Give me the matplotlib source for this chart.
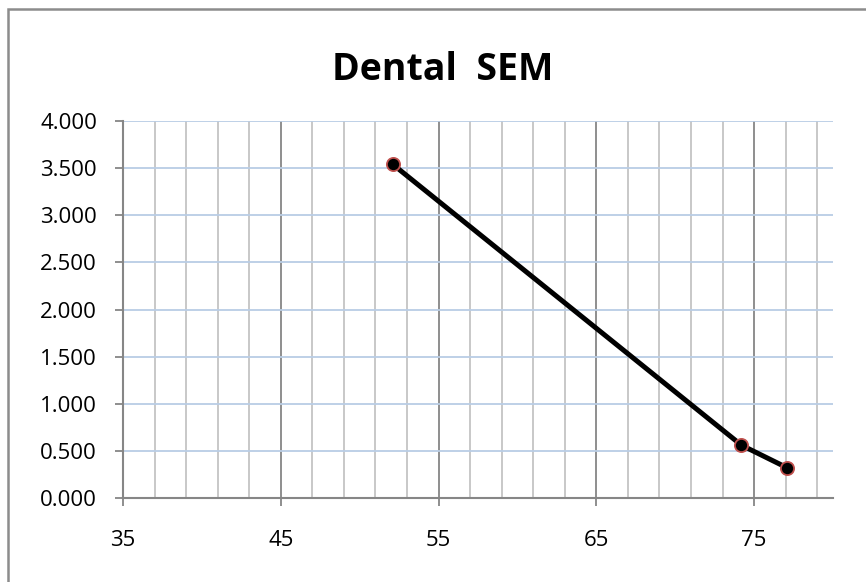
import matplotlib.pyplot as plt
from matplotlib.patches import Rectangle
from matplotlib.ticker import FixedLocator, MultipleLocator, FormatStrFormatter

# SEM values for the dental series
x_vals = [52.1, 74.2, 77.1]
sem_vals = [3.54, 0.56, 0.32]
x_major = [35, 45, 55, 65, 75]
x_minor = list(range(37, 80, 2))
title = 'Dental  SEM'

W, H, DPI = 866, 582, 100
fig = plt.figure(figsize=(W / DPI, H / DPI), dpi=DPI)
plt.rcParams['font.family'] = ['Open Sans', 'DejaVu Sans']

# chart frame (only top/left edges visible)
fig.patches.append(Rectangle((8 / W, -0.1), 1.2, 1 - 8 / H + 0.1 - 0.002,
                             transform=fig.transFigure, fill=False,
                             edgecolor='#8c8c8c', lw=1.8))

ax = fig.add_axes([123 / W, 1 - 498 / H, (833 - 123) / W, (498 - 121) / H])
ax.set_xlim(35, 80)
ax.set_ylim(0, 4)

ax.xaxis.set_major_locator(FixedLocator(x_major))
ax.xaxis.set_minor_locator(FixedLocator(x_minor))
ax.yaxis.set_major_locator(MultipleLocator(0.5))
ax.yaxis.set_major_formatter(FormatStrFormatter('%.3f'))

ax.grid(axis='y', which='major', color='#b9cde5', lw=1.3)
ax.grid(axis='x', which='minor', color='#c4c4c4', lw=1.3)
ax.grid(axis='x', which='major', color='#868686', lw=1.3)
ax.set_axisbelow(True)

for s in ['top', 'right']:
    ax.spines[s].set_visible(False)
for s in ['left', 'bottom']:
    ax.spines[s].set_color('#868686')
    ax.spines[s].set_linewidth(1.5)

ax.tick_params(which='major', direction='out', length=5.8, width=1.3,
               color='#868686', labelsize=16)
ax.tick_params(axis='y', which='major', pad=13)
ax.tick_params(axis='x', which='major', pad=17)
ax.tick_params(which='minor', length=0)

ax.plot(x_vals, sem_vals, color='black', lw=3.6, marker='o', ms=9.5,
        markerfacecolor='black', markeredgecolor='#c0504d', mew=1.3,
        solid_capstyle='round', zorder=5, clip_on=False)

fig.text(443 / W, 1 - 70 / H, title, ha='center', va='center',
         fontsize=27, fontweight='bold')

fig.savefig('out.png', dpi=DPI)
